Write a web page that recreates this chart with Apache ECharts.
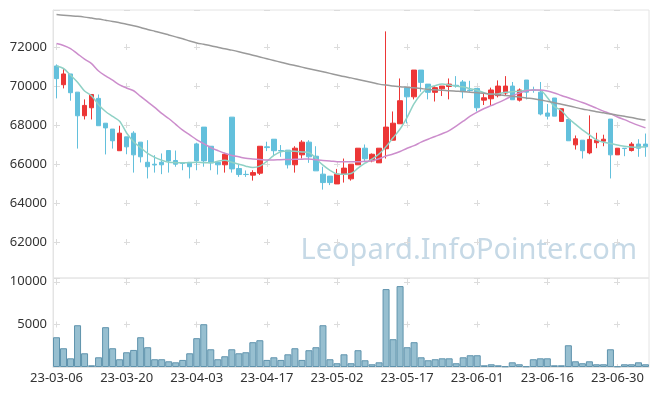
<!DOCTYPE html>
<html><head><meta charset="utf-8">
<script src="https://cdn.jsdelivr.net/npm/echarts/dist/echarts.min.js"></script>
<style>html,body{margin:0;padding:0;background:#fff}#c{width:657px;height:396px}</style>
</head><body><div id="c"></div>
<script>
var dates = ['23-03-06','23-03-07','23-03-08','23-03-09','23-03-10','23-03-13','23-03-14','23-03-15','23-03-16','23-03-17',
'23-03-20','23-03-21','23-03-22','23-03-23','23-03-24','23-03-27','23-03-28','23-03-29','23-03-30','23-03-31',
'23-04-03','23-04-04','23-04-05','23-04-06','23-04-07','23-04-10','23-04-11','23-04-12','23-04-13','23-04-14',
'23-04-17','23-04-18','23-04-19','23-04-20','23-04-21','23-04-24','23-04-25','23-04-26','23-04-27','23-04-28',
'23-05-02','23-05-03','23-05-04','23-05-08','23-05-09','23-05-10','23-05-11','23-05-12','23-05-15','23-05-16',
'23-05-17','23-05-18','23-05-19','23-05-22','23-05-23','23-05-24','23-05-25','23-05-26','23-05-30','23-05-31',
'23-06-01','23-06-02','23-06-05','23-06-07','23-06-08','23-06-09','23-06-12','23-06-13','23-06-14','23-06-15',
'23-06-16','23-06-19','23-06-20','23-06-21','23-06-22','23-06-23','23-06-26','23-06-27','23-06-28','23-06-29',
'23-06-30','23-07-03','23-07-04','23-07-05','23-07-06'];

// [open, close, low, high]
var ohlc = [
[71030,70380,69370,71110],[70070,70620,69880,70870],[70620,69660,69250,70620],[69690,68480,66800,69690],[68480,69010,68290,69320],
[68890,69570,68290,69570],[69370,67970,67970,69570],[68100,67860,66500,68100],[67800,67200,66800,67800],[66690,67590,66690,67970],
[67400,66890,66510,67400],[67590,66480,65570,67690],[67130,66380,66090,67130],[66100,65870,65270,67230],[66000,65960,65570,66460],
[66100,65970,65490,66550],[66700,66170,65570,66700],[66190,66000,65870,66700],[66070,66040,65690,66070],[66100,65870,65270,66100],
[67040,66170,65690,67100],[67900,66170,65870,67900],[66920,66070,65690,66920],[66100,65970,65470,66100],[65970,66510,65570,66580],
[68410,65760,65570,68410],[65780,65470,65350,66000],[65480,65470,65350,65680],[65440,65570,65160,65690],[65540,66920,65450,66920],
[66890,66850,66670,67150],[67280,66690,66410,67280],[66700,66680,66380,66980],[66720,65970,65780,66720],[65970,66820,65570,66920],
[66480,67130,66290,67230],[67130,66380,66070,67230],[66410,65660,65660,66920],[65490,65060,64700,65870],[65390,65060,64930,65390],
[64990,65490,64990,65760],[65490,65800,65060,66290],[65250,66000,65160,66000],[65970,66820,65970,66820],[66820,66280,66100,67010],
[66170,66510,66100,66550],[66070,66820,66070,66820],[66790,67900,66290,72800],[67230,68100,67230,68700],[68070,69250,68070,70390],
[69920,69450,68090,69920],[69450,70820,69320,70820],[70820,70190,69710,70820],[70100,69680,69320,70100],[69680,69920,69210,70000],
[69860,70000,69490,70000],[69980,70100,69320,70390],[70040,70000,69920,70510],[70210,69710,69370,70310],[69800,69770,69710,70270],
[69880,68890,68700,69880],[69280,69400,69030,69620],[69350,69800,68990,69920],[69510,70000,69420,70290],[69640,70000,69520,70510],
[70000,69300,69300,70210],[69280,69800,69210,69880],[70310,69690,69320,70310],[69800,69780,69660,69970],[69690,68570,68500,70210],
[68620,68460,68290,69080],[69390,68460,68460,69390],[68190,68840,68190,68840],[68290,67200,67200,68290],[66990,67300,66750,67470],
[67230,66690,66290,67230],[66580,67270,66510,68500],[67100,67230,66820,67610],[67180,67280,66920,67510],[68310,66480,65270,68310],
[66480,66820,66480,66820],[66820,66800,66410,66820],[66700,67030,66650,67130],[67030,66820,66380,67280],[67030,66890,66380,67570]
];

var ma5 = [71030,70900,70560,70200,69750,69500,69050,68700,68450,68200,
67600,67150,66850,66550,66350,66200,66100,66080,66070,66080,
66100,66080,66070,66150,66200,66100,66000,65900,65830,65900,
66150,66450,66640,66670,66660,66630,66600,66300,65950,65690,
65500,65490,65520,65800,66050,66260,66520,66900,67350,67800,
68400,69100,69600,69900,70020,70100,70060,70000,69960,69870,
69790,69650,69580,69600,69680,69710,69740,69790,69800,69780,
69420,68950,68750,68350,68050,67760,67500,67250,67120,67060,
66980,66920,66880,66870,66890];

var ma20 = [72180,72080,71920,71650,71380,71150,70770,70520,70300,70060,
69900,69760,69470,69190,68910,68600,68340,68040,67740,67500,
67250,67050,66850,66700,66560,66450,66380,66300,66270,66240,
66210,66220,66230,66240,66250,66260,66270,66230,66190,66170,
66130,66120,66120,66130,66150,66170,66280,66420,66520,66650,
66820,66950,67130,67280,67420,67560,67720,67950,68200,68460,
68670,68850,69000,69150,69320,69500,69640,69760,69800,69800,
69750,69650,69520,69400,69280,69160,69020,68870,68720,68580,
68420,68280,68130,67990,67860];

var ma120 = [73660,73630,73600,73570,73530,73480,73430,73370,73310,73240,
73170,73090,73000,72900,72810,72720,72620,72520,72420,72310,
72210,72140,72070,71990,71910,71840,71760,71670,71580,71490,
71400,71310,71220,71130,71050,70970,70890,70810,70730,70650,
70570,70490,70420,70340,70260,70180,70100,70050,70010,69970,
69940,69910,69870,69830,69810,69790,69760,69740,69720,69690,
69660,69630,69590,69560,69520,69480,69440,69390,69350,69290,
69220,69150,69070,68990,68910,68830,68760,68690,68630,68570,
68510,68450,68390,68320,68260];

var volume = [3490,2200,1020,4900,1610,200,1140,4670,2200,910,
1730,2000,3490,2320,910,910,670,550,830,1610,
3380,5020,2080,910,1260,2080,1610,1730,2910,3140,
830,1140,830,1490,2200,830,1970,2320,4900,910,
440,1490,440,1970,790,320,550,9140,3260,9490,
2320,2910,1140,790,910,1020,1020,440,1140,1380,
1380,200,320,200,80,550,320,80,910,1020,
1020,200,200,2550,670,440,670,320,320,2080,
80,320,320,550,320];

var priceMin = 60174, priceMax = 73895, volMax = 10440;

var chart = echarts.init(document.getElementById('c'), null, {renderer: 'canvas'});
var font = 'Noto Sans';
var crossColor = '#dcdcdc';
var plain = function (v) { return String(v); };
chart.setOption({
  animation: false,
  textStyle: {fontFamily: font},
  grid: [
    {left: 53, right: 8, top: 10, height: 268, show: true, borderColor: '#e4e4e4', borderWidth: 1, backgroundColor: 'transparent'},
    {left: 53, right: 8, top: 278, height: 89, show: true, borderColor: '#e4e4e4', borderWidth: 1, backgroundColor: 'transparent'}
  ],
  graphic: [{
    type: 'text', right: 20, top: 236, z: 0, silent: true,
    style: {text: 'Leopard.InfoPointer.com', fontSize: 29, fontFamily: font, fill: '#c6d9e6'}
  }],
  xAxis: [
    {type: 'category', gridIndex: 0, data: dates, boundaryGap: true,
     axisLine: {show: false}, axisTick: {show: false}, axisLabel: {show: false},
     splitLine: {show: true, interval: 9, alignWithLabel: true, lineStyle: {color: crossColor, width: 1, type: [6, 33], dashOffset: 5}}},
    {type: 'category', gridIndex: 1, data: dates, boundaryGap: true,
     axisLine: {show: true, lineStyle: {color: '#e4e4e4'}}, axisTick: {show: false},
     axisLabel: {show: true, interval: 9, fontSize: 13, color: '#333', margin: 5, fontFamily: font},
     splitLine: {show: true, interval: 9, alignWithLabel: true, lineStyle: {color: crossColor, width: 1, type: [6, 36.5], dashOffset: 41.5}}}
  ],
  yAxis: [
    {type: 'value', gridIndex: 0, min: priceMin, max: priceMax, splitNumber: 7, scale: true,
     axisLine: {show: true, lineStyle: {color: '#e4e4e4'}}, axisTick: {show: false},
     axisLabel: {fontSize: 13, color: '#333', margin: 6, showMinLabel: false, showMaxLabel: false, fontFamily: font, formatter: plain},
     splitLine: {show: true, lineStyle: {color: crossColor, width: 1, type: [6, 64], dashOffset: 69}}},
    {type: 'value', gridIndex: 1, min: 0, max: volMax, interval: 5000,
     axisLine: {show: true, lineStyle: {color: '#e4e4e4'}}, axisTick: {show: false},
     axisLabel: {fontSize: 13, color: '#333', margin: 6, showMinLabel: false, showMaxLabel: false, fontFamily: font, formatter: plain},
     splitLine: {show: true, lineStyle: {color: crossColor, width: 1, type: [6, 64], dashOffset: 69}}}
  ],
  series: [
    {type: 'candlestick', xAxisIndex: 0, yAxisIndex: 0, data: ohlc, barWidth: 5,
     itemStyle: {color: '#ec3636', color0: '#63c0dc', borderColor: '#ec3636', borderColor0: '#63c0dc', borderWidth: 1}},
    {type: 'line', name: 'MA5', xAxisIndex: 0, yAxisIndex: 0, data: ma5, showSymbol: false, smooth: 0.3,
     lineStyle: {color: '#8fd1c5', width: 1.5}},
    {type: 'line', name: 'MA20', xAxisIndex: 0, yAxisIndex: 0, data: ma20, showSymbol: false, smooth: 0.3,
     lineStyle: {color: '#cc8dcc', width: 1.5}},
    {type: 'line', name: 'MA120', xAxisIndex: 0, yAxisIndex: 0, data: ma120, showSymbol: false, smooth: 0.3,
     lineStyle: {color: '#9a9a9a', width: 1.5}},
    {type: 'bar', xAxisIndex: 1, yAxisIndex: 1, data: volume, barCategoryGap: '0%',
     itemStyle: {color: '#97bfd0', borderColor: '#5f93ad', borderWidth: 1}}
  ]
});
</script></body></html>
